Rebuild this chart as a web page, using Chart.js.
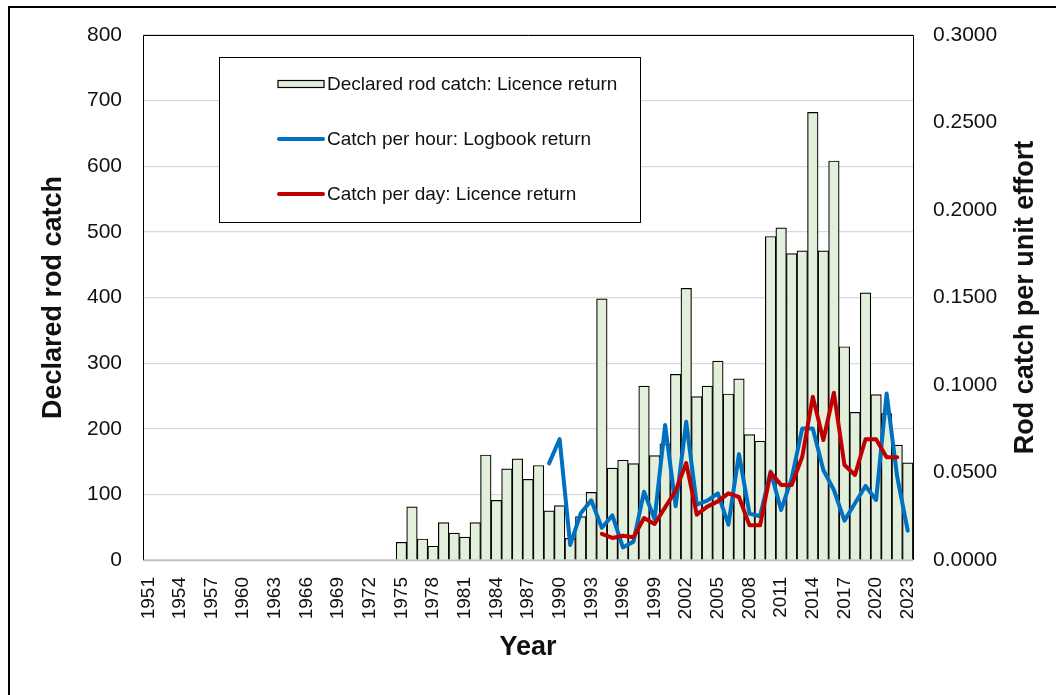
<!DOCTYPE html>
<html>
<head>
<meta charset="utf-8">
<script src="https://cdn.jsdelivr.net/npm/chart.js@4.4.1/dist/chart.umd.min.js"></script>
<style>
  html, body { margin: 0; padding: 0; background: #ffffff; }
  #wrap { position: relative; width: 1056px; height: 695px; }
</style>
</head>
<body>
<div id="wrap"><canvas id="c"></canvas></div>
<script>
// ---- Data ----
const firstYear = 1951;
const lastYear = 2023;
const years = [];
for (let y = firstYear; y <= lastYear; y++) years.push(String(y));

// Declared rod catch: Licence return, 1975-2023
const catchStart = 1975;
const catchValues = [27, 81, 32, 21, 57, 41, 35, 57, 160, 91,
                     139, 154, 123, 144, 75, 83, 33, 66, 103, 398,
                     140, 152, 147, 265, 159, 177, 283, 414, 249, 265,
                     303, 253, 276, 191, 181, 493, 506, 467, 471, 682,
                     471, 608, 325, 225, 407, 252, 223, 175, 148];

// Catch per hour: Logbook return, 1989-2023
const hourStart = 1989;
const hourValues = [0.0552, 0.0691, 0.0086, 0.0267, 0.0341, 0.0184, 0.0255, 0.0072, 0.0105, 0.0390,
                    0.0234, 0.0771, 0.0307, 0.0790, 0.0316, 0.0339, 0.0381, 0.0202, 0.0605, 0.0265,
                    0.0250, 0.0505, 0.0286, 0.0467, 0.0752, 0.0752, 0.0514, 0.0400, 0.0225, 0.0324,
                    0.0423, 0.0343, 0.0952, 0.0476, 0.0168];

// Catch per day: Licence return, 1994-2022
const dayStart = 1994;
const dayValues = [0.0149, 0.0126, 0.0139, 0.0130, 0.0240, 0.0206, 0.0301, 0.0396, 0.0554, 0.0259,
                   0.0305, 0.0335, 0.0381, 0.0360, 0.0198, 0.0198, 0.0499, 0.0429, 0.0429, 0.0590,
                   0.0933, 0.0686, 0.0956, 0.0543, 0.0486, 0.0690, 0.0690, 0.0587, 0.0587];

const leftTicks = [0, 100, 200, 300, 400, 500, 600, 700, 800];
const rightTicks = [0, 0.05, 0.1, 0.15, 0.2, 0.25, 0.3];
const rightTitle = 'Rod catch per unit effort';

function alignSeries(start, values) {
  return years.map(y => {
    const i = Number(y) - start;
    return (i >= 0 && i < values.length) ? values[i] : null;
  });
}

const FONT = "'Liberation Sans', Arial, Helvetica, sans-serif";
const TXT = '#111111';

const framePlugin = {
  id: 'frame',
  beforeDraw(chart) {
    const ctx = chart.ctx;
    ctx.save();
    ctx.fillStyle = '#ffffff';
    ctx.fillRect(0, 0, chart.width, chart.height);
    ctx.restore();
  },
  afterDraw(chart) {
    const ctx = chart.ctx;
    const a = chart.chartArea;
    ctx.save();
    // outer frame
    ctx.strokeStyle = '#000000';
    ctx.lineWidth = 2;
    ctx.beginPath();
    ctx.moveTo(9, chart.height + 5);
    ctx.lineTo(9, 7);
    ctx.lineTo(chart.width + 5, 7);
    ctx.stroke();
    // plot area border
    ctx.lineWidth = 1;
    ctx.strokeStyle = '#000000';
    ctx.beginPath();
    ctx.moveTo(Math.round(a.left) + 0.5, Math.round(a.bottom));
    ctx.lineTo(Math.round(a.left) + 0.5, Math.round(a.top) + 0.5);
    ctx.lineTo(Math.round(a.right) + 0.5, Math.round(a.top) + 0.5);
    ctx.lineTo(Math.round(a.right) + 0.5, Math.round(a.bottom));
    ctx.stroke();
    ctx.strokeStyle = '#bfbfbf';
    ctx.lineWidth = 1.5;
    ctx.beginPath();
    ctx.moveTo(a.left, Math.round(a.bottom) + 0.5);
    ctx.lineTo(a.right, Math.round(a.bottom) + 0.5);
    ctx.stroke();

    // right axis title, reading bottom-to-top
    ctx.save();
    ctx.translate(1026, (a.top + a.bottom) / 2);
    ctx.rotate(-Math.PI / 2);
    ctx.fillStyle = TXT;
    ctx.font = 'bold 27px ' + FONT;
    ctx.textAlign = 'center';
    ctx.textBaseline = 'middle';
    ctx.fillText(rightTitle, 0, 0);
    ctx.restore();

    // legend
    const bx = 219, by = 57, bw = 421, bh = 165;
    ctx.fillStyle = '#ffffff';
    ctx.fillRect(bx, by, bw, bh);
    ctx.strokeStyle = '#000000';
    ctx.lineWidth = 1;
    ctx.strokeRect(bx + 0.5, by + 0.5, bw, bh);
    const ds = chart.data.datasets;
    const rows = [84, 139, 194];
    ctx.font = '19px ' + FONT;
    ctx.textBaseline = 'middle';
    ctx.textAlign = 'left';
    ds.forEach((d, i) => {
      const y = rows[i];
      if (d.type === 'bar') {
        ctx.fillStyle = d.backgroundColor;
        ctx.fillRect(278, y - 3.5, 46, 7);
        ctx.strokeStyle = '#000000';
        ctx.lineWidth = 1.2;
        ctx.strokeRect(278, y - 3.5, 46, 7);
      } else {
        ctx.strokeStyle = d.borderColor;
        ctx.lineWidth = 4;
        ctx.lineCap = 'round';
        ctx.beginPath();
        ctx.moveTo(279, y);
        ctx.lineTo(323, y);
        ctx.stroke();
      }
      ctx.fillStyle = TXT;
      ctx.fillText(d.label, 327, y + 1);
    });
    ctx.restore();
  }
};

new Chart(document.getElementById('c'), {
  data: {
    labels: years,
    datasets: [
      {
        type: 'bar',
        label: 'Declared rod catch: Licence return',
        data: alignSeries(catchStart, catchValues),
        backgroundColor: '#e2efda',
        borderColor: '#000000',
        borderWidth: 1.2,
        categoryPercentage: 1.0,
        barPercentage: 1.0,
        yAxisID: 'y',
        order: 3
      },
      {
        type: 'line',
        label: 'Catch per hour: Logbook return',
        data: alignSeries(hourStart, hourValues),
        borderColor: '#0070c0',
        backgroundColor: '#0070c0',
        borderWidth: 4,
        pointRadius: 0,
        tension: 0,
        spanGaps: false,
        borderJoinStyle: 'round',
        borderCapStyle: 'round',
        yAxisID: 'y1',
        order: 2
      },
      {
        type: 'line',
        label: 'Catch per day: Licence return',
        data: alignSeries(dayStart, dayValues),
        borderColor: '#c00000',
        backgroundColor: '#c00000',
        borderWidth: 4,
        pointRadius: 0,
        tension: 0,
        spanGaps: false,
        borderJoinStyle: 'round',
        borderCapStyle: 'round',
        yAxisID: 'y1',
        order: 1
      }
    ]
  },
  options: {
    responsive: true,
    maintainAspectRatio: false,
    animation: false,
    devicePixelRatio: 1,
    layout: { padding: { top: 35, left: 0, right: 0, bottom: 0 } },
    plugins: {
      legend: { display: false },
      tooltip: { enabled: false },
      title: { display: false }
    },
    scales: {
      x: {
        type: 'category',
        offset: true,
        grid: { display: false, drawTicks: false },
        border: { display: false },
        ticks: {
          autoSkip: false,
          maxRotation: 90,
          minRotation: 90,
          padding: 17,
          color: TXT,
          font: { family: FONT, size: 19 },
          callback: function(v, i) { return (i % 3 === 0) ? years[i] : ''; }
        },
        title: {
          display: true,
          text: 'Year',
          color: TXT,
          font: { family: FONT, size: 27, weight: 'bold', lineHeight: 1.2 },
          padding: { top: 0, bottom: 31 }
        },
        afterFit(scale) { scale.height = 135; }
      },
      y: {
        position: 'left',
        min: 0,
        max: 800,
        afterBuildTicks(scale) { scale.ticks = leftTicks.map(v => ({ value: v })); },
        grid: { color: '#d9d9d9', lineWidth: 1.2, drawTicks: false },
        border: { display: false },
        ticks: {
          padding: 21,
          color: TXT,
          font: { family: FONT, size: 21 },
          callback: v => String(v)
        },
        title: {
          display: true,
          text: 'Declared rod catch',
          color: TXT,
          font: { family: FONT, size: 27, weight: 'bold', lineHeight: 1.2 },
          padding: { top: 37, bottom: 0 }
        },
        afterFit(scale) { scale.width = 143; }
      },
      y1: {
        position: 'right',
        min: 0,
        max: 0.3,
        afterBuildTicks(scale) { scale.ticks = rightTicks.map(v => ({ value: v })); },
        grid: { display: false, drawTicks: false },
        border: { display: false },
        ticks: {
          padding: 20,
          color: TXT,
          font: { family: FONT, size: 21 },
          callback: v => Number(v).toFixed(4)
        },
        title: { display: false, text: rightTitle },
        afterFit(scale) { scale.width = 143; }
      }
    }
  },
  plugins: [framePlugin]
});
</script>
</body>
</html>
